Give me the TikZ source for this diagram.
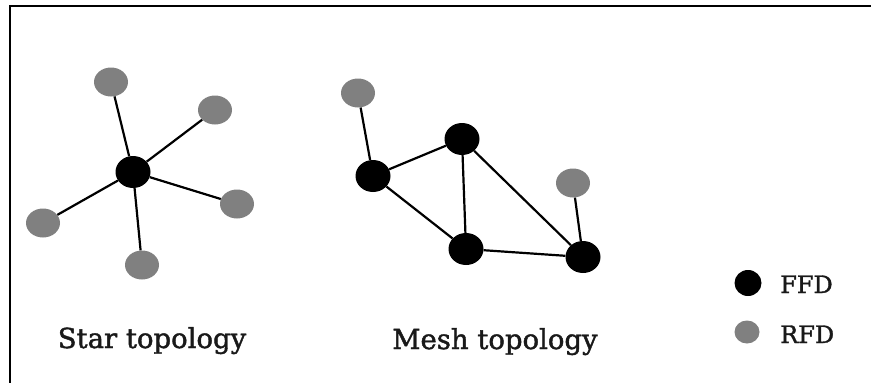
\documentclass[tikz,border=0pt]{standalone}
\usepackage{fontspec}
\setmainfont{DejaVu Serif}[FakeBold=1.2]
\newfontfamily\lblfont{DejaVu Serif}[FakeBold=1.5]
\usetikzlibrary{shapes.geometric}
\definecolor{rfdgray}{RGB}{128,128,128}
\begin{document}
\begin{tikzpicture}[x=1pt,y=-1pt,
  ffd/.style={ellipse,fill=black,minimum width=35pt,minimum height=32pt,inner sep=0pt},
  rfd/.style={ellipse,fill=rfdgray,minimum width=34pt,minimum height=29pt,inner sep=0pt},
  link/.style={draw=black,line width=2.2pt},
  lbl/.style={font=\lblfont\fontsize{27.5}{28}\selectfont,anchor=base,inner sep=0pt,text=black!90}]
\useasboundingbox (0,0) rectangle (871,383);
\fill[white] (0,0) rectangle (871,383);
\draw[line width=2pt] (9.5,383) -- (9.5,5.5) -- (871,5.5);
% star topology
\node[rfd] (s1) at (111,82) {};
\node[rfd] (s2) at (215,110) {};
\node[rfd] (s3) at (237,204) {};
\node[rfd] (s4) at (43,223) {};
\node[rfd] (s5) at (142,265) {};
\node[ffd] (sc) at (133,172) {};
\foreach \n in {s1,s2,s3,s4,s5} \draw[link] (sc) -- (\n);
\node[lbl] (slabel) at (152,348) {Star topology};
% mesh topology
\node[rfd] (m1) at (358,93) {};
\node[rfd] (m2) at (573,183) {};
\node[ffd] (ma) at (373,176) {};
\node[ffd] (mb) at (462,139) {};
\node[ffd] (mc) at (466,249) {};
\node[ffd] (md) at (583,257) {};
\draw[link] (m1) -- (ma);
\draw[link] (ma) -- (mb);
\draw[link] (ma) -- (mc);
\draw[link] (mb) -- (mc);
\draw[link] (mb) -- (md);
\draw[link] (mc) -- (md);
\draw[link] (m2) -- (md);
\node[lbl] (mlabel) at (495,349) {Mesh topology};
% legend
\node[ffd,minimum width=27pt,minimum height=26pt] (lf) at (748,283) {};
\node[rfd,minimum width=25pt,minimum height=23pt] (lr) at (747,332) {};
\node[lbl,anchor=base west,font=\lblfont\fontsize{24}{24}\selectfont] (tf) at (780,293) {FFD};
\node[lbl,anchor=base west,font=\lblfont\fontsize{24}{24}\selectfont] (tr) at (780,343) {RFD};
\end{tikzpicture}
\end{document}
